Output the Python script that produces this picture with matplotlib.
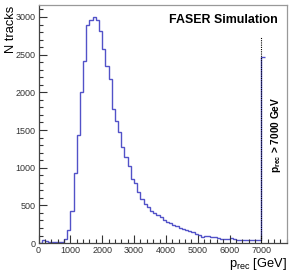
import numpy as np
import matplotlib
matplotlib.use("Agg")
import matplotlib.pyplot as plt
from matplotlib.ticker import MultipleLocator

plt.rcParams["font.family"] = ["Liberation Sans", "DejaVu Sans"]
plt.rcParams["mathtext.fontset"] = "custom"
plt.rcParams["mathtext.rm"] = "Liberation Sans"
plt.rcParams["mathtext.it"] = "Liberation Sans"
plt.rcParams["mathtext.bf"] = "Liberation Sans:bold"

# Data: 100 GeV bins from 0 to 7000, last bin is the overflow (> 7000 GeV)
bin_width = 100
counts = [
    5, 45, 30, 15, 12, 12, 15, 20, 60, 170,            # 0 - 1000
    425, 925, 1430, 2000, 2417, 2900, 2955, 3005, 2955, 2815,   # 1000 - 2000
    2570, 2355, 2178, 1780, 1624, 1478, 1270, 1138, 1027, 850,  # 2000 - 3000
    800, 681, 584, 518, 474, 430, 400, 370, 340, 300,           # 3000 - 4000
    285, 260, 240, 225, 205, 190, 172, 155, 140, 120,           # 4000 - 5000
    108, 80, 95, 90, 78, 75, 70, 55, 52, 50,                    # 5000 - 6000
    65, 48, 45, 40, 40, 38, 35, 38, 35, 40,                     # 6000 - 7000
    2470,                                                       # overflow
]
edges = np.arange(len(counts) + 1) * bin_width

cutoff = 7000
cutoff_line_top = 2740
x_max = 7800
y_max = 3160

# Plot
fig = plt.figure(figsize=(3.01, 2.74), dpi=100)
ax = fig.add_axes([0.128, 0.113, 0.825, 0.869])

ax.stairs(counts, edges, color="#5252c8", lw=1.0, baseline=None)
ax.plot([cutoff, cutoff], [0, cutoff_line_top], color="k", ls=(0, (1, 1)), lw=0.8)

ax.set_xlim(0, x_max)
ax.set_ylim(0, y_max)

ax.xaxis.set_major_locator(MultipleLocator(1000))
ax.xaxis.set_minor_locator(MultipleLocator(200))
ax.yaxis.set_major_locator(MultipleLocator(500))
ax.yaxis.set_minor_locator(MultipleLocator(100))
ax.tick_params(which="both", direction="in", labelsize=6.5, colors="#333333",
               top=False, right=False)
ax.tick_params(which="major", length=6, width=0.8, pad=2)
ax.tick_params(which="minor", length=3, width=0.8)

for side in ["left", "bottom"]:
    ax.spines[side].set_color("#444444")
for side in ["top", "right"]:
    ax.spines[side].set_color("#999999")
for s in ax.spines.values():
    s.set_linewidth(0.9)

ax.set_ylabel("N tracks", fontsize=9.3, loc="top", labelpad=0)
ax.yaxis.set_label_coords(-0.088, 0.995)
ax.set_xlabel(r"$\mathrm{p_{rec}}$ [GeV]", fontsize=9.3, loc="right", labelpad=0)
ax.xaxis.set_label_coords(1.0, -0.055)

ax.text(0.965, 0.935, "FASER Simulation", transform=ax.transAxes,
        ha="right", va="center", fontsize=8.9, fontweight="bold")
ax.text(7470, 1434, r"$\mathbf{p_{rec}}$ > 7000 GeV", rotation=90,
        ha="center", va="center", fontsize=7.3, fontweight="bold")

fig.savefig("out.png", dpi=100)
